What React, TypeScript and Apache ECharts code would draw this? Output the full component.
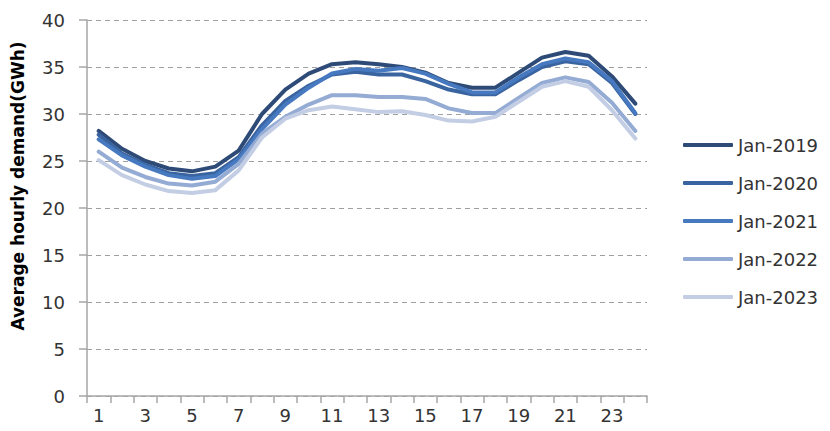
import React, { useEffect, useRef } from "react";
import * as echarts from "echarts";

const hours = ["1","2","3","4","5","6","7","8","9","10","11","12","13","14","15","16","17","18","19","20","21","22","23","24"];
const seriesNames = ["Jan-2019", "Jan-2020", "Jan-2021", "Jan-2022", "Jan-2023"];
const jan2019 = [28.2, 26.3, 25.0, 24.2, 23.9, 24.4, 26.1, 30.0, 32.6, 34.3, 35.3, 35.5, 35.3, 35.0, 34.4, 33.3, 32.8, 32.8, 34.4, 36.0, 36.6, 36.2, 34.0, 31.1];
const jan2020 = [27.8, 25.8, 24.6, 23.7, 23.4, 23.7, 25.4, 28.8, 31.4, 33.0, 34.2, 34.5, 34.2, 34.2, 33.5, 32.6, 32.1, 32.1, 33.6, 35.0, 35.6, 35.3, 33.3, 30.0];
const jan2021 = [27.3, 25.6, 24.4, 23.5, 23.1, 23.4, 25.2, 28.4, 31.0, 32.8, 34.3, 34.8, 34.6, 34.9, 34.3, 33.2, 32.3, 32.3, 33.9, 35.3, 35.9, 35.5, 33.5, 30.1];
const jan2022 = [26.0, 24.3, 23.3, 22.6, 22.4, 22.8, 24.7, 27.9, 29.7, 31.0, 32.0, 32.0, 31.8, 31.8, 31.6, 30.6, 30.1, 30.1, 31.7, 33.3, 33.9, 33.4, 31.2, 28.2];
const jan2023 = [25.1, 23.5, 22.5, 21.8, 21.6, 21.9, 24.0, 27.5, 29.5, 30.4, 30.8, 30.5, 30.2, 30.3, 29.9, 29.3, 29.2, 29.7, 31.3, 32.9, 33.5, 32.9, 30.4, 27.4];
const yTicks = [0, 5, 10, 15, 20, 25, 30, 35, 40];
const yTitle = "Average hourly demand(GWh)";

const colors = ["#2e4b78", "#3a64a0", "#4679bf", "#94abd4", "#c3cee5"];
const FONT = "DejaVu Sans";

export default function App() {
  const ref = useRef<HTMLDivElement>(null);
  useEffect(() => {
    if (!ref.current) return;
    const chart = echarts.init(ref.current, null, { renderer: "svg" });
    const data = [jan2019, jan2020, jan2021, jan2022, jan2023];
    chart.setOption({
      animation: false,
      backgroundColor: "#ffffff",
      grid: { left: 87, right: 183, top: 20, bottom: 35, containLabel: false },
      legend: {
        orient: "vertical",
        left: 678,
        top: 129,
        icon: "roundRect",
        itemWidth: 50,
        itemHeight: 4,
        itemGap: 16,
        data: seriesNames,
        textStyle: { fontFamily: FONT, fontSize: 18, color: "#333333", lineHeight: 22 },
      },
      graphic: [
        {
          type: "text",
          x: 18,
          y: 186,
          rotation: Math.PI / 2,
          style: {
            text: yTitle,
            fontFamily: FONT,
            fontSize: 17,
            fontWeight: "bold",
            fill: "#000000",
            textAlign: "center",
            textVerticalAlign: "middle",
          },
        },
      ],
      xAxis: {
        type: "category",
        data: hours,
        boundaryGap: true,
        axisLine: { show: true, lineStyle: { color: "#a6a6a6", width: 1.5 } },
        axisTick: { show: true, interval: 0, length: 7, lineStyle: { color: "#a6a6a6", width: 1.5 } },
        axisLabel: { interval: 1, margin: 10, fontFamily: FONT, fontSize: 18, color: "#333333" },
        splitLine: { show: false },
      },
      yAxis: {
        type: "value",
        min: 0,
        max: 40,
        interval: 5,
        axisLine: { show: true, lineStyle: { color: "#a6a6a6", width: 1.5 } },
        axisTick: { show: true, length: 8, lineStyle: { color: "#a6a6a6", width: 1.5 } },
        axisLabel: {
          margin: 22,
          fontFamily: FONT,
          fontSize: 18,
          color: "#333333",
          formatter: (v: number) => (yTicks.includes(v) ? String(v) : ""),
        },
        splitLine: { show: true, lineStyle: { color: "#a0a0a0", type: [5, 4], width: 1.2 } },
      },
      series: seriesNames.map((name, i) => ({
        name,
        type: "line",
        data: data[i],
        symbol: "none",
        smooth: false,
        color: colors[i],
        lineStyle: { color: colors[i], width: 4, cap: "round", join: "round" },
      })),
    });
    return () => chart.dispose();
  }, []);
  return <div ref={ref} style={{ position: "fixed", left: 0, top: 0, width: 830, height: 431 }} />;
}
